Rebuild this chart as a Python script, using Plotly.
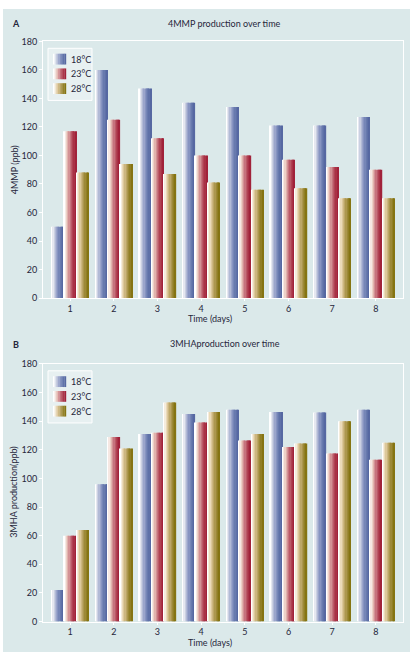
import plotly.graph_objects as go
from plotly.subplots import make_subplots

days = [1, 2, 3, 4, 5, 6, 7, 8]
series_names = ["18°C", "23°C", "28°C"]
mmp_18 = [50, 160, 147, 137, 134, 121, 121, 127]
mmp_23 = [117, 125, 112, 100, 100, 97, 92, 90]
mmp_28 = [88, 94, 87, 81, 76, 77, 70, 70]
mha_18 = [22, 96, 131, 145, 148, 146.5, 146, 148]
mha_23 = [60, 129, 132, 139, 126.5, 122, 117.5, 113]
mha_28 = [64, 121, 153, 146.5, 131, 124.5, 140, 125]
y_ticks = [0, 20, 40, 60, 80, 100, 120, 140, 160, 180]

# gradient stops (left -> right) for each series
stops = [
    ["#ffffff", "#c4cade", "#8f9bc6", "#6a7cb0", "#5668a2"],
    ["#ffffff", "#ebcbc0", "#cc8088", "#b24656", "#a1223a"],
    ["#ffffff", "#e8d5b0", "#c4ad72", "#a08c3c", "#857412"],
]

def hex2rgb(h):
    h = h.lstrip("#")
    return [int(h[i:i + 2], 16) for i in (0, 2, 4)]

def grad(cols, t):
    n = len(cols) - 1
    p = t * n
    i = min(int(p), n - 1)
    f = p - i
    a, b = hex2rgb(cols[i]), hex2rgb(cols[i + 1])
    c = [round(a[k] + (b[k] - a[k]) * f) for k in range(3)]
    return "rgb(%d,%d,%d)" % tuple(c)

PANEL = "#dbe9ea"
PLOT = "#e7f0f1"
FONT = "Lato, Open Sans, sans-serif"
TXT = "#26263a"

fig = make_subplots(rows=2, cols=1)

group = 0.85
w = group / 3
N = 10

for row, data in [(1, [mmp_18, mmp_23, mmp_28]), (2, [mha_18, mha_23, mha_28])]:
    for s, vals in enumerate(data):
        for k in range(N):
            t = k / (N - 1)
            off = -group / 2 + s * w + k * w / N
            fig.add_trace(go.Bar(
                x=days, y=vals, offset=off, width=w / N + 0.003,
                marker=dict(color=grad(stops[s], t), line=dict(width=0)),
                name=series_names[s], showlegend=False,
                hoverinfo="skip" if k != N - 1 else None,
            ), row=row, col=1)

axis_common = dict(showline=True, linecolor="white", linewidth=1, mirror=True,
                   ticks="outside", tickcolor="white", ticklen=3, showgrid=False,
                   zeroline=False, tickfont=dict(family=FONT, size=9, color=TXT))

for r, dom in [(1, [1 - 297 / 661, 1 - 36 / 661]), (2, [1 - 626 / 661, 1 - 364 / 661])]:
    fig.update_xaxes(axis_common, range=[0.38, 8.62], tickvals=days, domain=[0, 1],
                     ticklen=2, row=r, col=1)
    fig.update_yaxes(axis_common, range=[0, 180], tickvals=y_ticks, domain=dom, row=r, col=1)

def px2x(px):
    return (px - 43) / 360

def py2y(py):
    return 1 - py / 661

ann = []
shapes = [dict(type="rect", xref="paper", yref="paper", layer="below",
               x0=px2x(3), x1=px2x(410), y0=py2y(657), y1=py2y(3),
               fillcolor=PANEL, line=dict(width=0))]

def add(text, px, py, size=9, angle=0, bold=False, xanchor="center"):
    ann.append(dict(text=("<b>%s</b>" % text) if bold else text, x=px2x(px), y=py2y(py),
                    xref="paper", yref="paper", showarrow=False, textangle=angle,
                    font=dict(family=FONT, size=size, color=TXT),
                    xanchor=xanchor, yanchor="middle"))

add("A", 16, 18, 9, bold=True)
add("4MMP production over time", 224, 18, 9)
add("4MMP (ppb)", 14, 166, 9, -90)
add("Time (days)", 210, 318, 9)
add("B", 16, 344, 9, bold=True)
add("3MHAproduction over time", 225, 343, 9)
add("3MHA production(ppb)", 14, 495, 9, -90)
add("Time (days)", 210, 647, 9)

# legends (drawn manually so the swatches carry the same gradient as the bars)
for dy in (0, 328):
    shapes.append(dict(type="rect", xref="paper", yref="paper", layer="above",
                       x0=px2x(48), x1=px2x(92), y0=py2y(96 + dy), y1=py2y(43 + dy),
                       fillcolor=PLOT, line=dict(color="white", width=1)))
    for s, name in enumerate(series_names):
        yc = 54 + 15 * s + dy
        M = 8
        for k in range(M):
            x0 = 53 + 13 * k / M
            shapes.append(dict(type="rect", xref="paper", yref="paper", layer="above",
                               x0=px2x(x0), x1=px2x(x0 + 13 / M + 0.2),
                               y0=py2y(yc + 5.5), y1=py2y(yc - 5.5),
                               fillcolor=grad(stops[s], k / (M - 1)), line=dict(width=0)))
        add(name, 68.5, yc, 9, xanchor="left")

fig.update_layout(
    width=413, height=661,
    margin=dict(l=43, r=10, t=0, b=0),
    paper_bgcolor="white",
    plot_bgcolor=PLOT,
    barmode="overlay",
    showlegend=False,
    annotations=ann,
    shapes=shapes,
)

fig.write_html("out.html", config={"displayModeBar": False},
               post_script="document.body.style.margin='0px';")
